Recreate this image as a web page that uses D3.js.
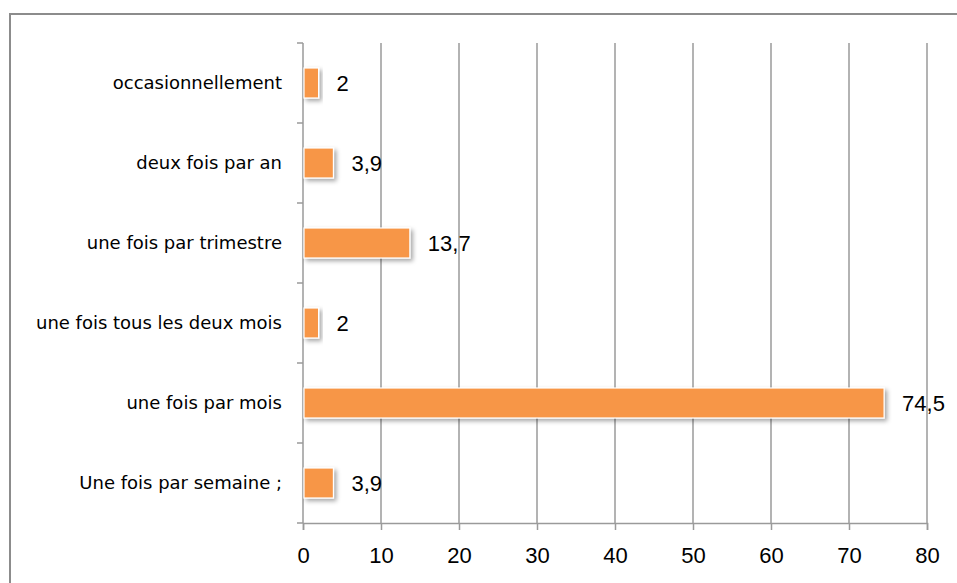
<!DOCTYPE html>
<html><head><meta charset="utf-8">
<script src="https://cdn.jsdelivr.net/npm/d3@7"></script>
<style>body{margin:0;background:#fff}svg{display:block}</style>
</head><body>
<svg id="chart" width="957" height="583"></svg>
<script>
const categories = ["occasionnellement","deux fois par an","une fois par trimestre","une fois tous les deux mois","une fois par mois","Une fois par semaine ;"];
const values = [2, 3.9, 13.7, 2, 74.5, 3.9];
const valueLabels = ["2","3,9","13,7","2","74,5","3,9"];
const xTicks = [0,10,20,30,40,50,60,70,80];

const svg = d3.select("#chart");
const W = 957, H = 583;
const m = {left:303, right:957-927, top:43, bottom:583-523};

const defs = svg.append("defs");
const f = defs.append("filter").attr("id","sh").attr("x","-20%").attr("y","-30%").attr("width","150%").attr("height","180%");
f.append("feDropShadow").attr("dx",2.5).attr("dy",2.5).attr("stdDeviation",2).attr("flood-color","#000").attr("flood-opacity",0.35);

// outer border
svg.append("path").attr("d",`M10,${H+5} L10,14 L${W+5},14`).attr("fill","none").attr("stroke","#8c8c8c").attr("stroke-width",2);

const x = d3.scaleLinear().domain([0,80]).range([m.left, W-m.right]);
const y = d3.scaleBand().domain(categories).range([m.top, H-m.bottom]).paddingInner(0.625).paddingOuter(0.3125);
const yb = d3.scaleBand().domain(categories).range([m.top, H-m.bottom]);

// gridlines
svg.append("g").selectAll("line").data(xTicks.slice(1)).join("line")
  .attr("x1",d=>x(d)).attr("x2",d=>x(d)).attr("y1",m.top).attr("y2",H-m.bottom)
  .attr("stroke","#9a9a9a").attr("stroke-width",1.5);

// x axis
const xAxis = svg.append("g").attr("transform",`translate(0,${H-m.bottom})`)
  .call(d3.axisBottom(x).tickValues(xTicks).tickSize(7).tickPadding(17).tickFormat(d3.format("d")));
xAxis.select(".domain").attr("stroke","#9a9a9a").attr("stroke-width",1.5);
xAxis.selectAll(".tick line").attr("stroke","#9a9a9a").attr("stroke-width",1.5);
xAxis.selectAll("text").attr("font-family","'Liberation Sans', Arial, sans-serif").attr("font-size",22).attr("fill","#000");

// y axis: band boundary ticks
const bounds = d3.range(categories.length+1).map(i=>m.top + i*yb.step());
svg.append("line").attr("x1",x(0)).attr("x2",x(0)).attr("y1",m.top).attr("y2",H-m.bottom).attr("stroke","#9a9a9a").attr("stroke-width",1.5);
svg.append("g").selectAll("line").data(bounds).join("line")
  .attr("x1",x(0)-6).attr("x2",x(0)).attr("y1",d=>d).attr("y2",d=>d)
  .attr("stroke","#9a9a9a").attr("stroke-width",1.5);

// category labels
svg.append("g").selectAll("text").data(categories).join("text")
  .attr("x",x(0)-21).attr("y",d=>yb(d)+yb.bandwidth()/2).attr("dy","0.35em")
  .attr("text-anchor","end").attr("font-family","'DejaVu Sans', Verdana, sans-serif").attr("font-size",18).attr("fill","#000")
  .text(d=>d);

// bars
svg.append("g").selectAll("rect").data(values).join("rect")
  .attr("x",x(0)+1).attr("y",(d,i)=>y(categories[i]))
  .attr("width",d=>x(d)-x(0)-1).attr("height",y.bandwidth())
  .attr("fill","#F79646").attr("stroke","#fff").attr("stroke-width",1.2).attr("filter","url(#sh)");

// value labels
svg.append("g").selectAll("text").data(values).join("text")
  .attr("x",d=>x(d)+18).attr("y",(d,i)=>yb(categories[i])+yb.bandwidth()/2).attr("dy","0.36em")
  .attr("font-family","'Liberation Sans', Arial, sans-serif").attr("font-size",22).attr("fill","#000")
  .text((d,i)=>valueLabels[i]);
</script>
</body></html>
